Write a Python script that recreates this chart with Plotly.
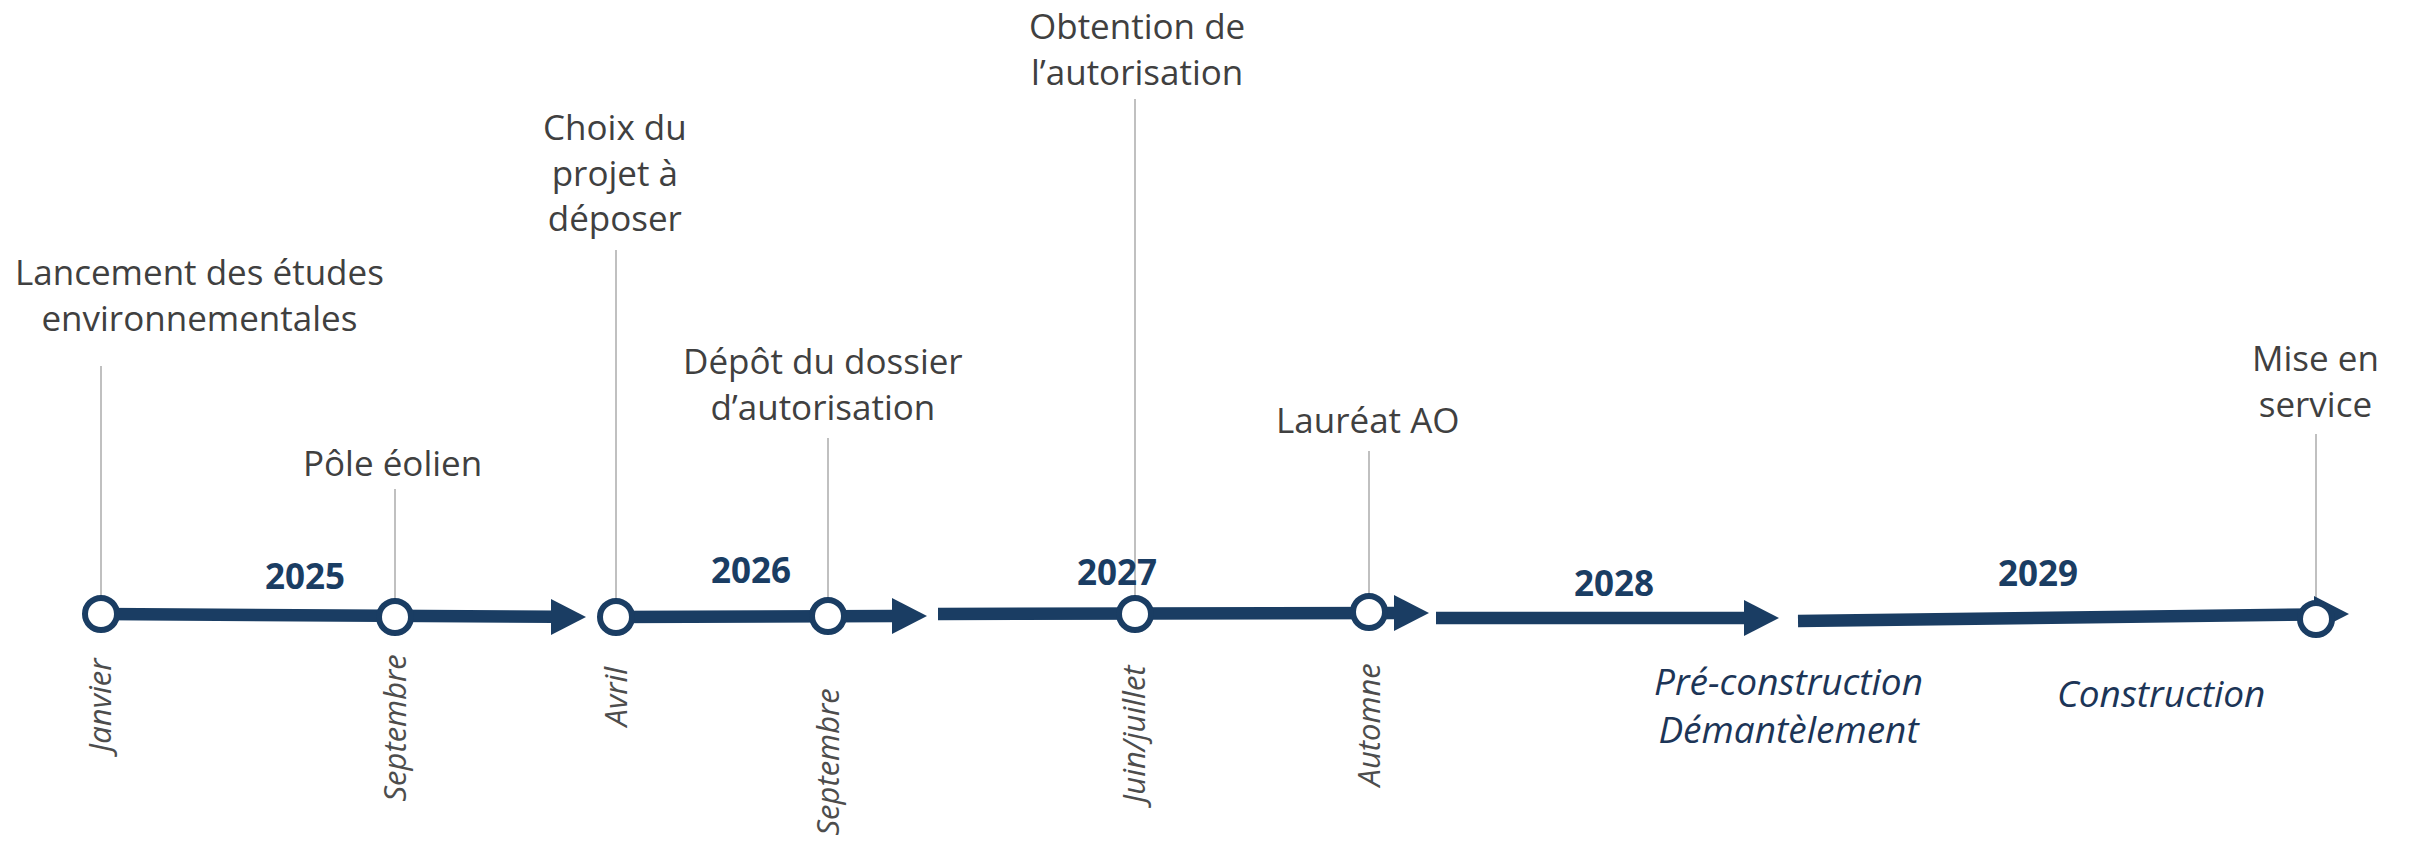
import plotly.graph_objects as go

# ---------------- data ----------------
milestone_text = [
    "Lancement des études<br>environnementales",
    "Pôle éolien",
    "Choix du<br>projet à<br>déposer",
    "Dépôt du dossier<br>d’autorisation",
    "Obtention de<br>l’autorisation",
    "Lauréat AO",
    "Mise en<br>service",
]
milestone_x = [101, 395, 616, 828, 1135, 1369, 2316]
milestone_y = [614, 617, 617, 616, 614, 612, 619]
label_x = [199, 392, 615, 823, 1137, 1368, 2315]
label_y = [294, 462, 172, 383, 48, 419, 380]
leader_top = [366, 489, 250, 438, 99, 451, 434]

month_labels = ["Janvier", "Septembre", "Avril", "Septembre", "Juin/juillet", "Automne"]
month_top = [655, 653, 664, 687, 662, 662]

seg_x0 = [101, 616, 938, 1436, 1798]
seg_y0 = [614, 617, 614, 618, 621]
seg_x1 = [586, 927, 1429, 1779, 2349]
seg_y1 = [617, 616, 613, 618, 614]

year_labels = ["2025", "2026", "2027", "2028", "2029"]
year_x = [305, 751, 1117, 1614, 2038]
year_y = [575, 569, 571, 582, 572]

phase_labels = ["Pré-construction<br>Démantèlement", "Construction"]
phase_x = [1788, 2161]
phase_y = [704, 692]

# ---------------- style ----------------
NAVY = "#1A3D63"
PHASE = "#1C3557"
TEXT = "#404040"
MONTH = "#4D4D4D"
LEADER = "#ABABAB"
FONT = "Open Sans"
HEAD_LEN = 35
HEAD_HALF = 18

fig = go.Figure()

# leader lines
for x, yt, yb in zip(milestone_x, leader_top, milestone_y):
    fig.add_trace(go.Scatter(x=[x, x], y=[yt, yb], mode="lines",
                             line=dict(color=LEADER, width=1.5), hoverinfo="skip"))

# arrow segments
for x0, y0, x1, y1 in zip(seg_x0, seg_y0, seg_x1, seg_y1):
    bx = x1 - HEAD_LEN
    by = y0 + (y1 - y0) * (bx - x0) / (x1 - x0)
    fig.add_trace(go.Scatter(x=[x0, bx + 2], y=[y0, by], mode="lines",
                             line=dict(color=NAVY, width=12.5), hoverinfo="skip"))
    fig.add_trace(go.Scatter(x=[bx, x1, bx, bx], y=[y1 - HEAD_HALF, y1, y1 + HEAD_HALF, y1 - HEAD_HALF],
                             mode="lines", fill="toself", fillcolor=NAVY,
                             line=dict(color=NAVY, width=0), hoverinfo="skip"))

# milestone circles
fig.add_trace(go.Scatter(x=milestone_x, y=milestone_y, mode="markers",
                         marker=dict(symbol="circle", size=32, color="white",
                                     line=dict(color=NAVY, width=6)),
                         hoverinfo="skip"))

ann = []
for t, x, y in zip(milestone_text, label_x, label_y):
    ann.append(dict(x=x, y=y, text=t, showarrow=False, xanchor="center", yanchor="middle",
                    font=dict(family=FONT, size=35, color=TEXT), align="center"))
for t, x, y in zip(month_labels, milestone_x, month_top):
    ann.append(dict(x=x - 2, y=y, text="<i>" + t + "</i>", showarrow=False, textangle=-90,
                    xanchor="center", yanchor="top",
                    font=dict(family=FONT, size=31, color=MONTH)))
for t, x, y in zip(year_labels, year_x, year_y):
    ann.append(dict(x=x, y=y, text="<b>" + t + "</b>", showarrow=False,
                    xanchor="center", yanchor="middle",
                    font=dict(family=FONT, size=35, color=NAVY)))
for t, x, y in zip(phase_labels, phase_x, phase_y):
    ann.append(dict(x=x, y=y, text="<i>" + t + "</i>", showarrow=False,
                    xanchor="center", yanchor="middle", align="center",
                    font=dict(family=FONT, size=37, color=PHASE)))

fig.update_layout(
    width=2410, height=842,
    margin=dict(l=0, r=0, t=0, b=0),
    paper_bgcolor="white", plot_bgcolor="white",
    showlegend=False,
    hovermode=False,
    xaxis=dict(range=[0, 2410], visible=False, fixedrange=True),
    yaxis=dict(range=[842, 0], visible=False, fixedrange=True),
    annotations=ann,
)

fig.write_html("out.html",
               config={"displayModeBar": False, "staticPlot": True},
               post_script="document.body.style.margin='0';document.body.style.overflow='hidden';")
